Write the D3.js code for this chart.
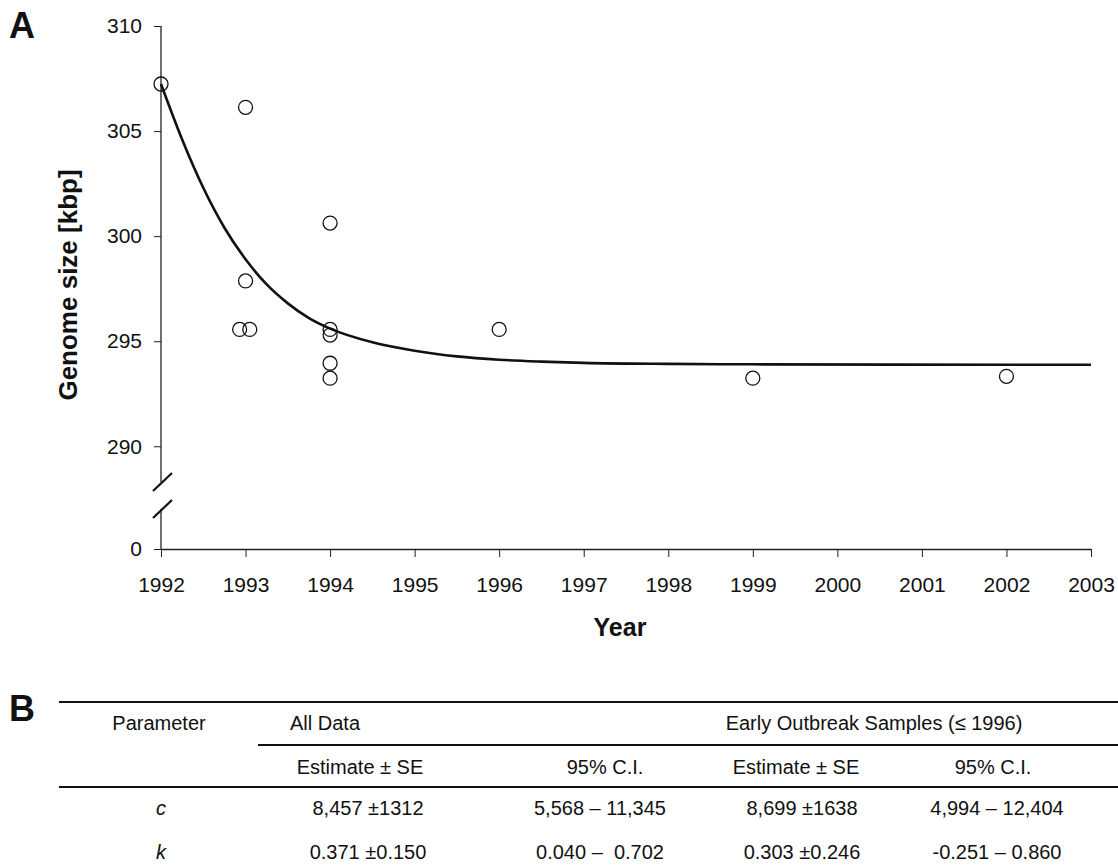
<!DOCTYPE html>
<html>
<head>
<meta charset="utf-8">
<script src="https://cdn.jsdelivr.net/npm/d3@7"></script>
<style>
  body { margin: 0; background: #fff; }
  svg { display: block; font-family: "Liberation Sans", Arial, sans-serif; }
  .axis text { font-size: 21px; fill: #111; font-family: "Liberation Sans", Arial, sans-serif; }
  .axis line, .axis path { stroke: #222; }
</style>
</head>
<body>
<div id="chart"></div>
<script>
// Samples: year and genome size (kbp)
const sampleYears = [1992, 1993, 1993, 1992.93, 1993.05, 1994, 1994, 1994, 1994, 1994, 1996, 1999, 2002];
const sampleSizes = [307.24, 306.13, 297.87, 295.56, 295.56, 300.62, 295.56, 295.29, 293.95, 293.24, 295.56, 293.24, 293.33];

// Fitted curve
const fitYears = [1992.00, 1992.25, 1992.50, 1992.75, 1993.00, 1993.25, 1993.50, 1993.75, 1994.00,
                  1994.50, 1995.00, 1995.50, 1996.00, 1996.50, 1997.00, 1998.00, 1999.00, 2003.00];
const fitSizes = [307.24, 304.60, 302.30, 300.40, 298.90, 297.70, 296.80, 296.10, 295.60,
                  294.95, 294.55, 294.28, 294.12, 294.03, 293.97, 293.92, 293.90, 293.88];

const xTicks = d3.range(1992, 2004);
const yTicks = [0, 290, 295, 300, 305, 310];

// Table B
const paramNames = ["c", "k"];
const groupHeaders = ["All Data", "Early Outbreak Samples (≤ 1996)"];
const colHeaders = ["Estimate ± SE", "95% C.I.", "Estimate ± SE", "95% C.I."];
const tableRows = [
  ["8,457 ±1312", "5,568 – 11,345", "8,699 ±1638", "4,994 – 12,404"],
  ["0.371 ±0.150", "0.040 –  0.702", "0.303 ±0.246", "-0.251 – 0.860"]
];

const W = 1118, H = 868;
const svg = d3.select("#chart").append("svg")
  .attr("width", W).attr("height", H);

const x = d3.scaleLinear().domain([1992, 2003]).range([161, 1091]);
// broken axis: 0 sits below the break, 288.3..310 above it
const y = d3.scaleLinear().domain([0, 1, 288.3, 310]).range([549, 509, 482, 26]);

// x axis
const xAxisG = svg.append("g")
  .attr("class", "axis")
  .attr("transform", `translate(0,${y(0)})`)
  .call(d3.axisBottom(x).tickValues(xTicks).tickFormat(d3.format("d"))
    .tickSize(8).tickPadding(20).tickSizeOuter(0));
xAxisG.select(".domain").attr("stroke-width", 1.3);

// y axis, without domain; the line is drawn in two pieces
const yAxisG = svg.append("g")
  .attr("class", "axis")
  .attr("transform", `translate(${x(1992)},0)`)
  .call(d3.axisLeft(y).tickValues(yTicks).tickSize(7).tickPadding(12));
yAxisG.select(".domain").remove();

const x0 = x(1992);
svg.append("line")
  .attr("x1", x0).attr("x2", x0)
  .attr("y1", y(310)).attr("y2", y(288.3))
  .attr("stroke", "#222").attr("stroke-width", 1.3);
svg.append("line")
  .attr("x1", x0).attr("x2", x0)
  .attr("y1", y(1)).attr("y2", y(0))
  .attr("stroke", "#222").attr("stroke-width", 1.3);

// break marks
[288.3, 1].forEach(v => {
  const yb = y(v);
  svg.append("line")
    .attr("x1", x0 - 8).attr("y1", yb + 9)
    .attr("x2", x0 + 11).attr("y2", yb - 9)
    .attr("stroke", "#111").attr("stroke-width", 2.2);
});

// fit curve
const fitData = fitYears.map((d, i) => ({ year: d, size: fitSizes[i] }));
svg.append("path")
  .datum(fitData)
  .attr("fill", "none")
  .attr("stroke", "#111")
  .attr("stroke-width", 2.6)
  .attr("d", d3.line().x(d => x(d.year)).y(d => y(d.size)).curve(d3.curveMonotoneX));

// samples
const samples = sampleYears.map((d, i) => ({ year: d, size: sampleSizes[i] }));
svg.append("g").selectAll("circle")
  .data(samples)
  .join("circle")
  .attr("cx", d => x(d.year))
  .attr("cy", d => y(d.size))
  .attr("r", 7)
  .attr("fill", "none")
  .attr("stroke", "#111")
  .attr("stroke-width", 1.3);

// axis titles
svg.append("text")
  .attr("x", 620).attr("y", 636)
  .attr("text-anchor", "middle")
  .attr("font-size", 25).attr("font-weight", "bold").attr("fill", "#111")
  .text("Year");

svg.append("text")
  .attr("transform", "translate(77,285) rotate(-90)")
  .attr("text-anchor", "middle")
  .attr("font-size", 26).attr("font-weight", "bold").attr("fill", "#111")
  .text("Genome size [kbp]");

// panel letters
svg.append("text").attr("x", 9).attr("y", 38)
  .attr("font-size", 36).attr("font-weight", "bold").attr("fill", "#111").text("A");
svg.append("text").attr("x", 9).attr("y", 721)
  .attr("font-size", 36).attr("font-weight", "bold").attr("fill", "#111").text("B");

// table B
const tbl = svg.append("g").attr("font-size", 20).attr("fill", "#111");
const rule = (x1, yy) => tbl.append("line")
  .attr("x1", x1).attr("x2", W).attr("y1", yy).attr("y2", yy)
  .attr("stroke", "#111").attr("stroke-width", 2.2);
rule(59, 702);
rule(258, 745);
rule(59, 787);

tbl.append("text").attr("x", 159).attr("y", 730).attr("text-anchor", "middle").text("Parameter");
tbl.append("text").attr("x", 290).attr("y", 730).text(groupHeaders[0]);
tbl.append("text").attr("x", 874).attr("y", 730).attr("text-anchor", "middle").text(groupHeaders[1]);

const colX = [360, 605, 796, 993];
colHeaders.forEach((h, i) => {
  tbl.append("text").attr("x", colX[i]).attr("y", 774).attr("text-anchor", "middle").text(h);
});

const valX = [368, 600, 802, 997];
const rowY = [815, 859];
paramNames.forEach((p, r) => {
  tbl.append("text").attr("x", 161).attr("y", rowY[r])
    .attr("text-anchor", "middle").attr("font-style", "italic").text(p);
  tableRows[r].forEach((v, i) => {
    tbl.append("text").attr("x", valX[i]).attr("y", rowY[r])
      .attr("text-anchor", "middle").style("white-space", "pre").text(v);
  });
});
</script>
</body>
</html>
